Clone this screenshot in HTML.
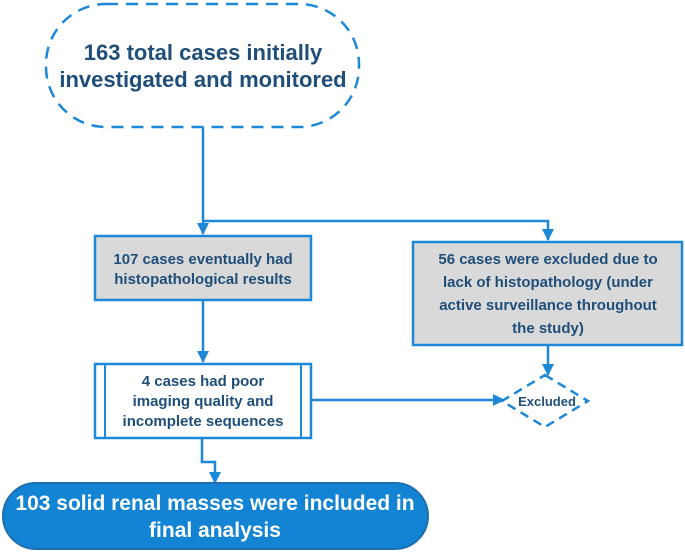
<!DOCTYPE html>
<html><head><style>
body{margin:0;background:#fff}
svg text{font-family:"Liberation Sans",sans-serif;font-weight:bold;fill:#1f4e79;text-anchor:middle}
</style></head><body>
<svg width="685" height="552" viewBox="0 0 685 552" xmlns="http://www.w3.org/2000/svg">
<defs><marker id="a" markerWidth="12" markerHeight="12" refX="11" refY="6" orient="auto" markerUnits="userSpaceOnUse"><path d="M0,0 L12,6 L0,12 z" fill="#1e88d8"/></marker></defs>
<g stroke="#1e88d8" stroke-width="2.5" fill="none">
<rect x="46" y="4" width="313" height="123" rx="60" stroke-dasharray="12,8"/>
<path d="M203 127 V234" marker-end="url(#a)"/>
<path d="M203 221 H548 V240" marker-end="url(#a)"/>
<path d="M203 300 V362" marker-end="url(#a)"/>
<path d="M311 400 H504" marker-end="url(#a)"/>
<path d="M548 345 V375" marker-end="url(#a)"/>
<path d="M202 438 V462 H215 V483" marker-end="url(#a)"/>
</g>
<rect x="95" y="236" width="216" height="64" fill="#d9d9d9" stroke="#1e88d8" stroke-width="2.5"/>
<rect x="413" y="242" width="269" height="103" fill="#d9d9d9" stroke="#1e88d8" stroke-width="2.5"/>
<rect x="95" y="364" width="216" height="74" fill="#fff" stroke="#1e88d8" stroke-width="2.5"/>
<line x1="105" y1="364" x2="105" y2="438" stroke="#1e88d8" stroke-width="2"/>
<line x1="301" y1="364" x2="301" y2="438" stroke="#1e88d8" stroke-width="2"/>
<polygon points="545,375 588,401 545,427 502,401" fill="#fff" stroke="#1e88d8" stroke-width="2.5" stroke-dasharray="9,6"/>
<rect x="3" y="483" width="425" height="66" rx="33" fill="#1383d4" stroke="#1e6fb0" stroke-width="2"/>
<text x="203" y="60" font-size="22">163 total cases initially</text>
<text x="203" y="87" font-size="22">investigated and monitored</text>
<text x="203" y="264" font-size="15">107 cases eventually had</text>
<text x="203" y="284" font-size="15">histopathological results</text>
<text x="548" y="264" font-size="15">56 cases were excluded due to</text>
<text x="548" y="287" font-size="15">lack of histopathology (under</text>
<text x="548" y="310" font-size="15">active surveillance throughout</text>
<text x="548" y="333" font-size="15">the study)</text>
<text x="203" y="386" font-size="15">4 cases had poor</text>
<text x="203" y="406" font-size="15">imaging quality and</text>
<text x="203" y="426" font-size="15">incomplete sequences</text>
<text x="547" y="406" font-size="13">Excluded</text>
<text x="215" y="510" font-size="21" style="fill:#fff">103 solid renal masses were included in</text>
<text x="215" y="537" font-size="21" style="fill:#fff">final analysis</text>
</svg>
</body></html>
